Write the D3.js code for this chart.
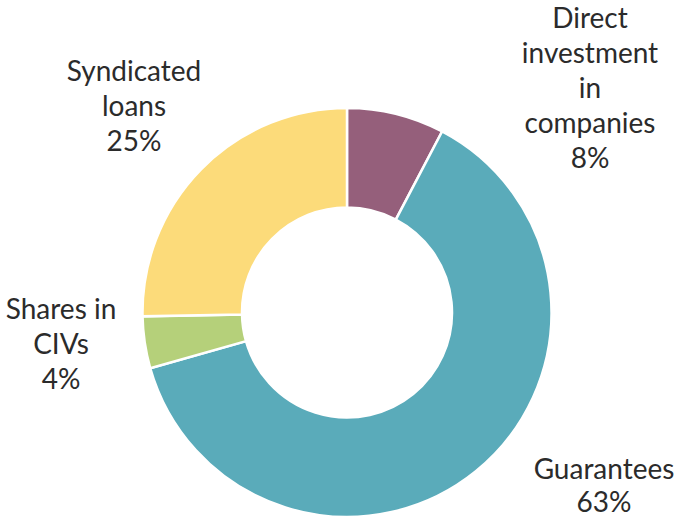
<!DOCTYPE html>
<html><head><meta charset="utf-8">
<script src="https://cdn.jsdelivr.net/npm/d3@7"></script>
<style>body{margin:0;background:#fff;}svg{display:block;}</style>
</head><body>
<svg id="chart" width="677" height="520"></svg>
<script>
const categories = ["Direct investment in companies", "Guarantees", "Shares in CIVs", "Syndicated loans"];
const values = [7.7, 62.9, 4.1, 25.3];
const colors = ["#955F7B", "#5AABBA", "#B5D07A", "#FCDB7A"];
const labelLines = [
  ["Direct", "investment", "in", "companies"],
  ["Guarantees"],
  ["Shares in", "CIVs"],
  ["Syndicated", "loans"]
];
const labelPos = [[590, 17], [604, 468], [61, 308], [134, 70]];

const svg = d3.select("#chart");
const cx = 347, cy = 312.5, rOuter = 204.5, rInner = 105;
const g = svg.append("g").attr("transform", `translate(${cx},${cy})`);
const pie = d3.pie().sort(null).value(d => d)(values);
const arc = d3.arc().innerRadius(rInner).outerRadius(rOuter);
g.selectAll("path").data(pie).join("path")
  .attr("d", arc)
  .attr("fill", (d, i) => colors[i])
  .attr("stroke", "#fff").attr("stroke-width", 2.5);

const lh = 35;
labelLines.forEach((lines, i) => {
  const all = lines.concat([Math.round(values[i]) + "%"]);
  const t = svg.append("text")
    .attr("text-anchor", "middle")
    .attr("font-family", "Lato, 'Open Sans', sans-serif")
    .attr("font-size", 28)
    .attr("fill", "#2b2b2b");
  all.forEach((s, j) => {
    t.append("tspan").attr("x", labelPos[i][0]).attr("y", labelPos[i][1] + j * (i === 1 ? 33 : lh))
      .attr("dominant-baseline", "central").text(s);
  });
});
</script>
</body></html>
